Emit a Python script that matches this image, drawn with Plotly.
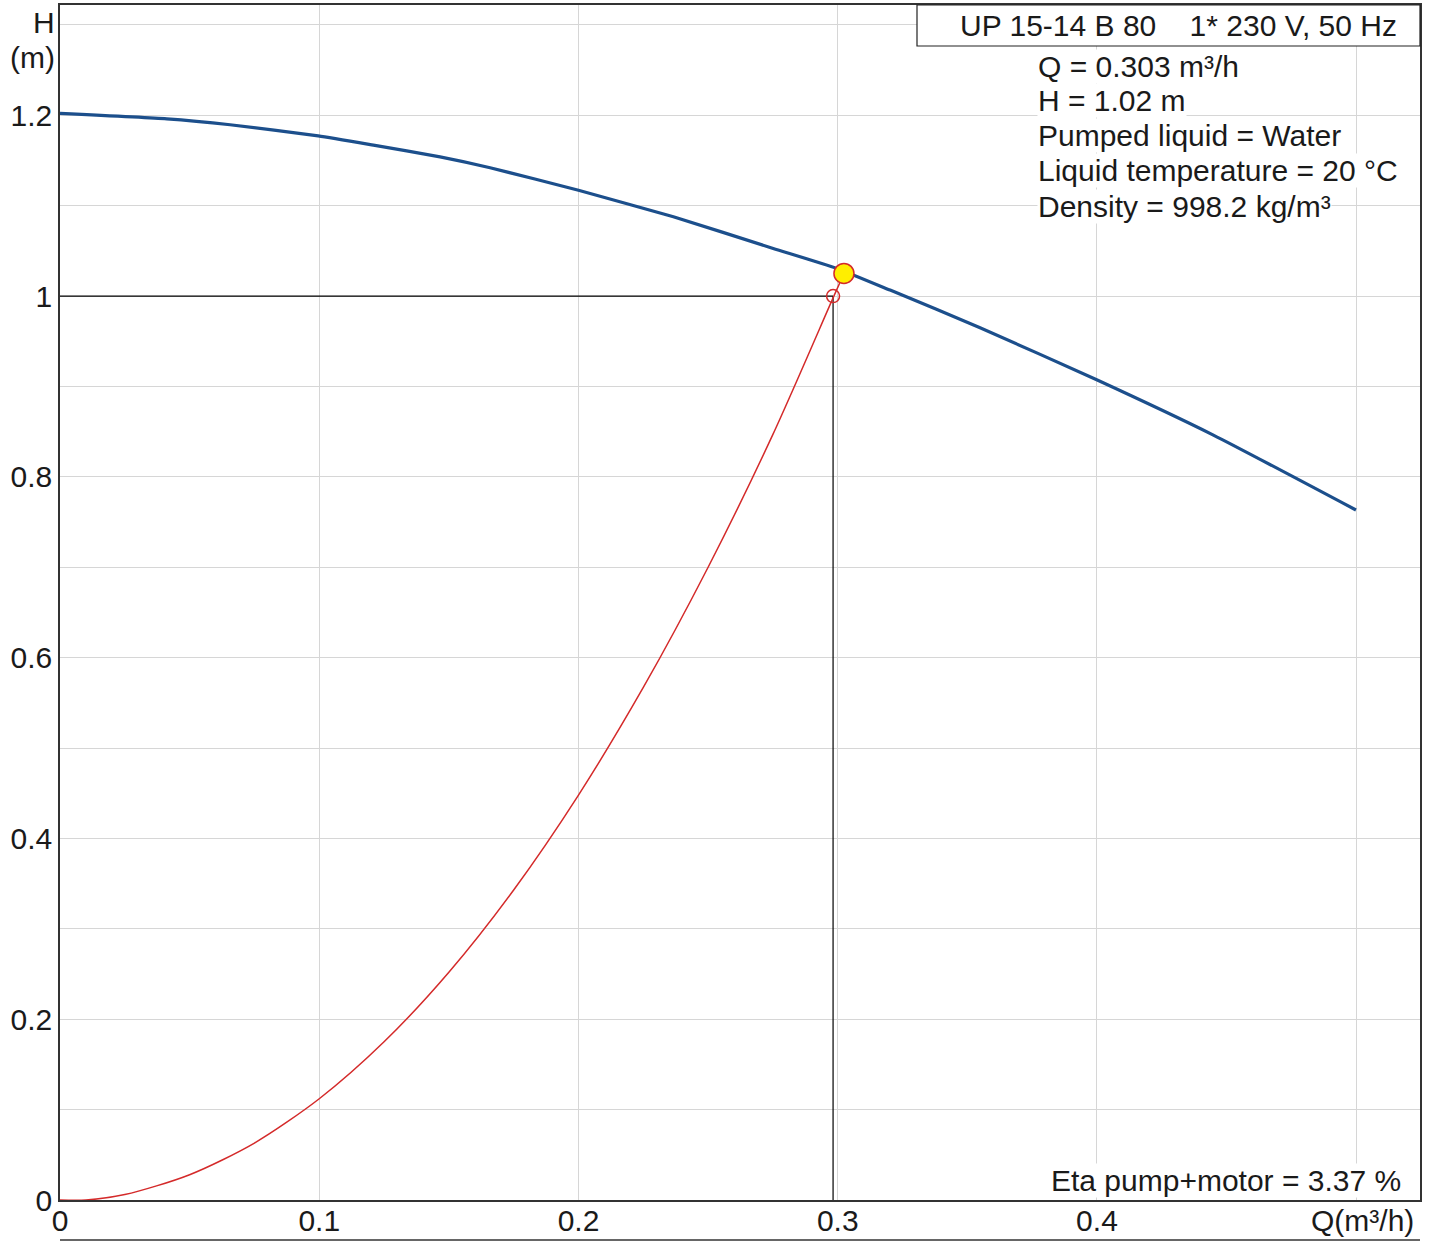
import plotly.graph_objects as go

# Pump curve (blue)
pump_q = [0.0, 0.0412, 0.0656, 0.0996, 0.1209, 0.1466, 0.1659, 0.2, 0.2366, 0.2751, 0.2996, 0.3202, 0.3549, 0.4001, 0.4449, 0.4999]
pump_h = [1.202, 1.196, 1.1895, 1.1773, 1.167, 1.154, 1.142, 1.117, 1.0877, 1.0527, 1.0306, 1.0066, 0.965, 0.9071, 0.8462, 0.7633]

# System curve (red)
sys_q = [0.0, 0.01, 0.025, 0.05, 0.075, 0.1, 0.125, 0.15, 0.175, 0.2, 0.225, 0.25, 0.275, 0.2982, 0.3024]
sys_h = [0.0, 0.0, 0.006, 0.028, 0.063, 0.112, 0.175, 0.252, 0.343, 0.448, 0.567, 0.700, 0.847, 0.998, 1.025]

# Operating / duty points
op_q, op_h = 0.3024, 1.025
duty_q, duty_h = 0.2982, 1.0

x_ticks = [0, 0.1, 0.2, 0.3, 0.4]
x_tick_text = ["0", "0.1", "0.2", "0.3", "0.4"]
y_ticks = [0, 0.2, 0.4, 0.6, 0.8, 1.0, 1.2]
y_tick_text = ["0", "0.2", "0.4", "0.6", "0.8", "1", "1.2"]

title_text = "UP 15-14 B 80\u00a0\u00a0\u00a0\u00a01* 230 V, 50 Hz"
info_lines = ["Q = 0.303 m³/h", "H = 1.02 m", "Pumped liquid = Water",
              "Liquid temperature = 20 °C", "Density = 998.2 kg/m³"]
eta_text = "Eta pump+motor = 3.37 %"

FONT = "Liberation Sans, Arial, sans-serif"
TXT = "#1a1a1a"
FS = 30

fig = go.Figure()

# duty lines (black)
fig.add_trace(go.Scatter(x=[0, duty_q], y=[duty_h, duty_h], mode="lines",
                         line=dict(color="black", width=1.2), hoverinfo="skip"))
fig.add_trace(go.Scatter(x=[duty_q, duty_q], y=[0, duty_h], mode="lines",
                         line=dict(color="black", width=1.2), hoverinfo="skip"))

fig.add_trace(go.Scatter(x=pump_q, y=pump_h, mode="lines",
                         line=dict(color="#1c4f8c", width=3.2, shape="spline", smoothing=0.5)))
fig.add_trace(go.Scatter(x=sys_q, y=sys_h, mode="lines",
                         line=dict(color="#d42a2a", width=1.5, shape="spline", smoothing=0.8)))

fig.add_trace(go.Scatter(x=[duty_q], y=[duty_h], mode="markers",
                         marker=dict(size=13, color="rgba(255,255,255,0)", line=dict(color="#d42a2a", width=1.5))))
fig.add_trace(go.Scatter(x=[op_q], y=[op_h], mode="markers",
                         marker=dict(size=20, color="#ffee00", line=dict(color="#d42a2a", width=1.5))))

axis_common = dict(showline=True, linecolor="#333333", linewidth=1.5, mirror=True,
                   showgrid=True, gridcolor="#d6d6d6", gridwidth=1, zeroline=False,
                   tickfont=dict(family=FONT, size=FS, color=TXT), ticks="", automargin=False)

fig.update_xaxes(range=[0, 0.5246], tickvals=x_ticks, ticktext=x_tick_text,
                 minor=dict(dtick=0.1, tick0=0, showgrid=True, gridcolor="#d6d6d6"),
                 ticklabelstandoff=-7, **axis_common)
fig.update_yaxes(range=[0, 1.322], tickvals=y_ticks, ticktext=y_tick_text,
                 minor=dict(dtick=0.1, tick0=0, showgrid=True, gridcolor="#d6d6d6"),
                 **axis_common)

ph = 1195.0
pw = 1360.0
annotations = [
    dict(text="H", x=-4 / pw, y=1 - 17 / ph, xanchor="right", yanchor="middle"),
    dict(text="(m)", x=-4 / pw, y=1 - 52 / ph, xanchor="right", yanchor="middle"),
    dict(text="Q(m³/h)", x=1355 / pw, y=-20 / ph, xanchor="right", yanchor="middle"),
    dict(text=title_text, x=(1398 - 60) / pw, y=1 - 20 / ph, xanchor="right", yanchor="middle"),
    dict(text=eta_text, x=(1402 - 60) / pw, y=20 / ph, xanchor="right", yanchor="middle", bgcolor="white"),
]
for i, line in enumerate(info_lines):
    annotations.append(dict(text=line, x=(1037 - 60) / pw, y=1 - (61 + 35 * i) / ph,
                            xanchor="left", yanchor="middle", bgcolor="white"))
for a in annotations:
    a.update(xref="paper", yref="paper", showarrow=False,
             font=dict(family=FONT, size=FS, color=TXT), borderpad=0)

shapes = [
    dict(type="rect", xref="paper", yref="paper", x0=(917 - 60) / pw, x1=1.0,
         y0=1 - 41 / ph, y1=1.0, line=dict(color="#222222", width=1.2), fillcolor="white", layer="above"),
    dict(type="line", xref="paper", yref="paper", x0=0, x1=1, y0=-40 / ph, y1=-40 / ph,
         line=dict(color="#333333", width=1.5)),
]

fig.update_layout(width=1433, height=1241, margin=dict(l=60, r=13, t=5, b=41, autoexpand=False),
                  paper_bgcolor="white", plot_bgcolor="white", showlegend=False,
                  annotations=annotations, shapes=shapes)

fig.write_html("out.html", config={"displayModeBar": False},
               post_script="document.body.style.margin='0';")
